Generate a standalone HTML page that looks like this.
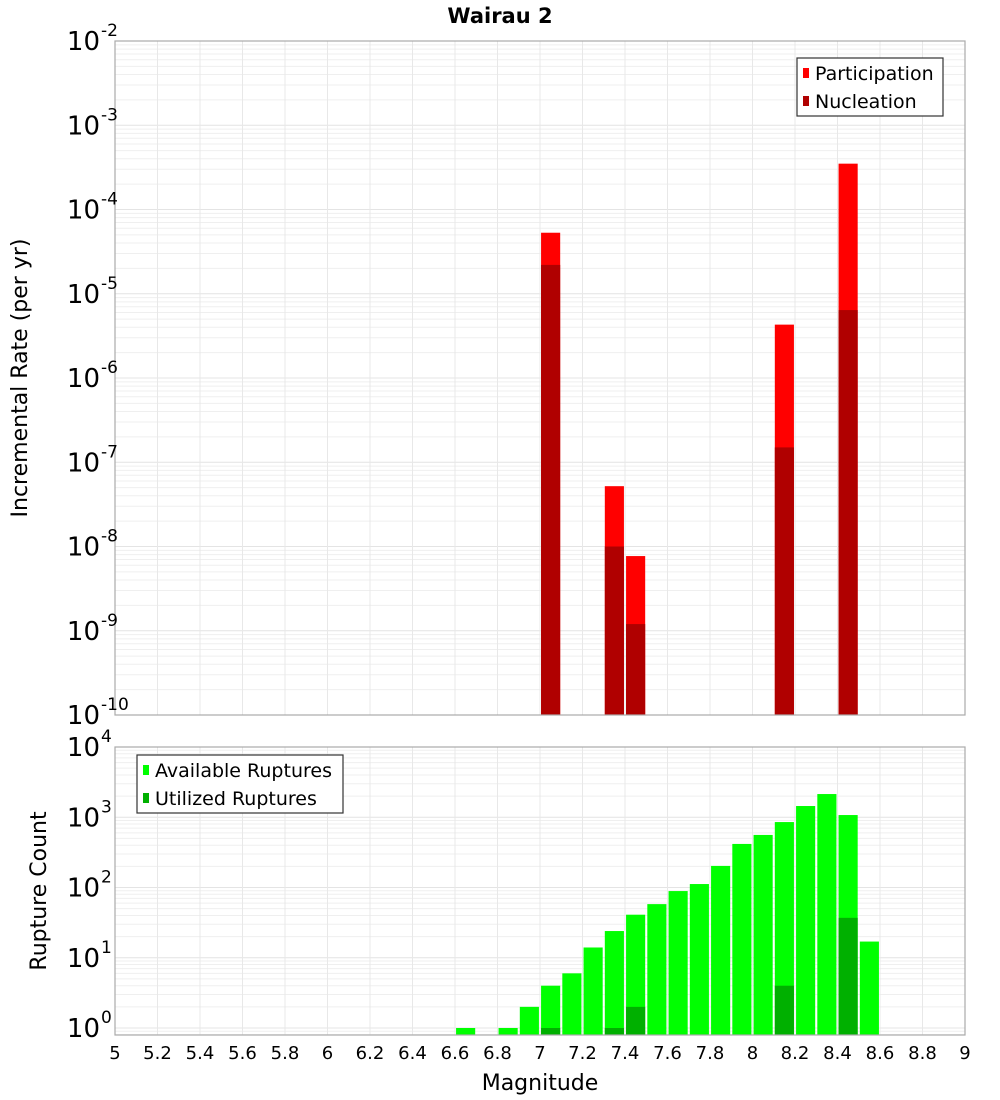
<!DOCTYPE html>
<html><head><meta charset="utf-8"><style>
html,body{margin:0;padding:0;background:#fff;}
svg{display:block;font-family:"DejaVu Sans","Liberation Sans",sans-serif;}
</style></head><body>
<svg id="c" width="1000" height="1100" viewBox="0 0 1000 1100">
<text x="500" y="23" text-anchor="middle" font-size="21" font-weight="bold">Wairau 2</text>
<g id="top"></g><g id="bot"></g>
<text transform="translate(27,378) rotate(-90)" text-anchor="middle" font-size="22">Incremental Rate (per yr)</text>
<text transform="translate(46,891) rotate(-90)" text-anchor="middle" font-size="22">Rupture Count</text>
<text x="540" y="1090" text-anchor="middle" font-size="22">Magnitude</text>
</svg>
<script>
const rateMags = [7.05, 7.35, 7.45, 8.15, 8.45];
const participation = [5.3e-5, 5.2e-8, 7.7e-9, 4.3e-6, 3.5e-4];
const nucleation = [2.2e-5, 1.0e-8, 1.2e-9, 1.5e-7, 6.4e-6];
const countMags = [6.65, 6.85, 6.95, 7.05, 7.15, 7.25, 7.35, 7.45, 7.55, 7.65, 7.75, 7.85, 7.95, 8.05, 8.15, 8.25, 8.35, 8.45, 8.55];
const available = [1, 1, 2, 4, 6, 14, 24, 41, 58, 89, 112, 203, 417, 560, 854, 1445, 2140, 1075, 17];
const utilMags = [7.05, 7.35, 7.45, 8.15, 8.45];
const utilized = [1, 1, 2, 4, 37];
const xTicks = ["5","5.2","5.4","5.6","5.8","6","6.2","6.4","6.6","6.8","7","7.2","7.4","7.6","7.8","8","8.2","8.4","8.6","8.8","9"];
const topExps = [-2,-3,-4,-5,-6,-7,-8,-9,-10];
const botExps = [4,3,2,1,0];

const NS="http://www.w3.org/2000/svg";
function mk(p,t,a){const e=document.createElementNS(NS,t);for(const k in a)e.setAttribute(k,a[k]);p.appendChild(e);return e;}
const L=115,R=965;
const x=m=>L+(m-5)/4*(R-L);
const topY=v=>41+(-2-Math.log10(v))*84.25;
const botY=v=>1028-Math.log10(v)*70.25;

function grid(g,yf,lo,hi,y0,y1){
  for(let e=lo;e<hi;e++)for(let k=1;k<10;k++){const yy=yf(k*Math.pow(10,e));if(yy<y0-0.5||yy>y1+0.5)continue;
    const l=mk(g,'line',{x1:L,x2:R,y1:yy,y2:yy,stroke:k==1?'#e4e4e4':'#efefef','stroke-width':1});
    
    }
  for(let i=0;i<=20;i++){const xx=x(5+i*0.2);
    const l=mk(g,'line',{x1:xx,x2:xx,y1:y0,y2:y1,stroke:'#e8e8e8','stroke-width':1});
    
    }
}
function bar(g,m,v,yf,yb,col,name){
  const y=yf(v);const r=mk(g,'rect',{x:x(m-0.045),y:y,width:x(0.09)-x(0),height:yb-y,fill:col});
  
  
}
function ylab(g,yy,exp,name){
  const t=mk(g,'text',{x:100,y:yy+9,'text-anchor':'end','font-size':26});t.textContent='10';
  
  
  const s=mk(g,'text',{x:101,y:yy-5,'font-size':17});s.textContent=exp;
  
  
}
function legend(g,bx,by,w,items){
  const b=mk(g,'rect',{x:bx,y:by,width:w,height:58,fill:'#fff',stroke:'#333','stroke-width':1.2});
  
  
  items.forEach((it,i)=>{
    const s=mk(g,'rect',{x:bx+6,y:by+10+i*28,width:6,height:10,fill:it[1]});
    
    
    const t=mk(g,'text',{x:bx+18,y:by+22+i*28,'font-size':19});t.textContent=it[0];
    
    
  });
}
// top
const tg=document.getElementById('top');
grid(tg,topY,-10,-2,41,715);
rateMags.forEach((m,i)=>bar(tg,m,participation[i],topY,715,'#ff0000','participation-bar'));
rateMags.forEach((m,i)=>bar(tg,m,nucleation[i],topY,715,'#b00000','nucleation-bar'));
{const f=mk(tg,'rect',{x:L,y:41,width:R-L,height:674,fill:'none',stroke:'#aaa','stroke-width':1.2});

}
topExps.forEach(e=>ylab(tg,topY(Math.pow(10,e)),String(e),'top-y-tick-label'));
legend(tg,797,58,146,[['Participation','#ff0000'],['Nucleation','#b00000']]);
// bottom
const bg=document.getElementById('bot');
grid(bg,botY,-1,4,747,1035);
countMags.forEach((m,i)=>bar(bg,m,available[i],botY,1035,'#00ff00','available-bar'));
utilMags.forEach((m,i)=>bar(bg,m,utilized[i],botY,1035,'#00b000','utilized-bar'));
{const f=mk(bg,'rect',{x:L,y:747,width:R-L,height:288,fill:'none',stroke:'#aaa','stroke-width':1.2});

}
botExps.forEach(e=>ylab(bg,botY(Math.pow(10,e)),String(e),'bottom-y-tick-label'));
legend(bg,137,755,206,[['Available Ruptures','#00ff00'],['Utilized Ruptures','#00b000']]);
xTicks.forEach(t=>{const e=mk(bg,'text',{x:x(parseFloat(t)),y:1059,'text-anchor':'middle','font-size':18});e.textContent=t;
  
  });
</script>
</body></html>
